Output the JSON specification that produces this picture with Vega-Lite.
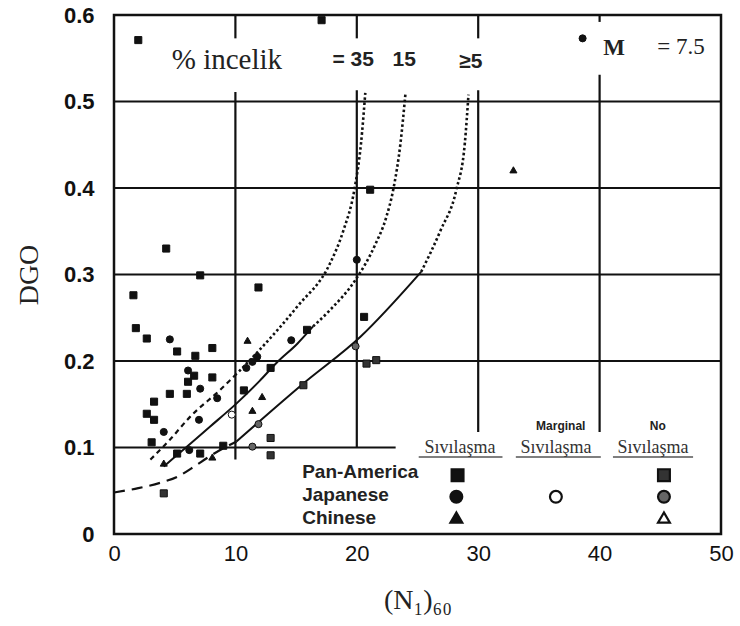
{
  "$schema": "https://vega.github.io/schema/vega-lite/v6.json",
  "width": 607,
  "height": 519,
  "autosize": {"type": "none"},
  "padding": {"left": 114, "top": 15, "right": 19, "bottom": 92},
  "background": "white",
  "config": {"view": {"stroke": "#111", "strokeWidth": 2.5}, "font": "Liberation Sans"},
  "datasets": {
    "izgara": [
      {"n": 0, "n2": 50, "dgo": 0.2, "dgo2": 0.2, "tur": "izgara"},
      {"n": 0, "n2": 50, "dgo": 0.3, "dgo2": 0.3, "tur": "izgara"},
      {"n": 0, "n2": 50, "dgo": 0.4, "dgo2": 0.4, "tur": "izgara"},
      {"n": 0, "n2": 50, "dgo": 0.5, "dgo2": 0.5, "tur": "izgara"},
      {"n": 0, "n2": 23.2, "dgo": 0.1, "dgo2": 0.1, "tur": "izgara"},
      {"n": 10, "n2": 10, "dgo": 0.573, "dgo2": 0.6, "tur": "izgara"},
      {"n": 10, "n2": 10, "dgo": 0.086, "dgo2": 0.511, "tur": "izgara"},
      {"n": 20, "n2": 20, "dgo": 0.573, "dgo2": 0.6, "tur": "izgara"},
      {"n": 20, "n2": 20, "dgo": 0.1, "dgo2": 0.513, "tur": "izgara"},
      {"n": 30, "n2": 30, "dgo": 0.573, "dgo2": 0.6, "tur": "izgara"},
      {"n": 30, "n2": 30, "dgo": 0.118, "dgo2": 0.513, "tur": "izgara"},
      {"n": 40, "n2": 40, "dgo": 0.592, "dgo2": 0.6, "tur": "izgara"},
      {"n": 40, "n2": 40, "dgo": 0.118, "dgo2": 0.531, "tur": "izgara"},
      {"n": 25.1, "n2": 32.0, "dgo": 0.089, "dgo2": 0.089, "tur": "alt"},
      {"n": 33.1, "n2": 40.1, "dgo": 0.089, "dgo2": 0.089, "tur": "alt"},
      {"n": 41.1, "n2": 47.7, "dgo": 0.089, "dgo2": 0.089, "tur": "alt"}
    ],
    "egriler": [
      {"n": 3.0, "dgo": 0.086, "kisim": "35-alt"},
      {"n": 4.6, "dgo": 0.109, "kisim": "35-alt"},
      {"n": 6.3, "dgo": 0.136, "kisim": "35-alt"},
      {"n": 8.7, "dgo": 0.166, "kisim": "35-alt"},
      {"n": 10.3, "dgo": 0.188, "kisim": "35-alt"},
      {"n": 10.3, "dgo": 0.188, "kisim": "35-ust"},
      {"n": 12.0, "dgo": 0.213, "kisim": "35-ust"},
      {"n": 15.1, "dgo": 0.263, "kisim": "35-ust"},
      {"n": 17.8, "dgo": 0.313, "kisim": "35-ust"},
      {"n": 18.9, "dgo": 0.351, "kisim": "35-ust"},
      {"n": 19.8, "dgo": 0.398, "kisim": "35-ust"},
      {"n": 20.35, "dgo": 0.452, "kisim": "35-ust"},
      {"n": 20.7, "dgo": 0.51, "kisim": "35-ust"},
      {"n": 4.1, "dgo": 0.078, "kisim": "15-alt"},
      {"n": 6.0, "dgo": 0.101, "kisim": "15-alt"},
      {"n": 7.9, "dgo": 0.124, "kisim": "15-alt"},
      {"n": 10.1, "dgo": 0.151, "kisim": "15-alt"},
      {"n": 12.0, "dgo": 0.177, "kisim": "15-alt"},
      {"n": 13.4, "dgo": 0.198, "kisim": "15-alt"},
      {"n": 15.1, "dgo": 0.22, "kisim": "15-alt"},
      {"n": 16.4, "dgo": 0.24, "kisim": "15-alt"},
      {"n": 16.4, "dgo": 0.24, "kisim": "15-ust"},
      {"n": 17.8, "dgo": 0.259, "kisim": "15-ust"},
      {"n": 19.9, "dgo": 0.294, "kisim": "15-ust"},
      {"n": 21.5, "dgo": 0.334, "kisim": "15-ust"},
      {"n": 22.4, "dgo": 0.365, "kisim": "15-ust"},
      {"n": 23.0, "dgo": 0.398, "kisim": "15-ust"},
      {"n": 23.6, "dgo": 0.452, "kisim": "15-ust"},
      {"n": 24.0, "dgo": 0.508, "kisim": "15-ust"},
      {"n": 0, "dgo": 0.048, "kisim": "5-alt"},
      {"n": 2, "dgo": 0.053, "kisim": "5-alt"},
      {"n": 4, "dgo": 0.06, "kisim": "5-alt"},
      {"n": 5.2, "dgo": 0.066, "kisim": "5-alt"},
      {"n": 6.5, "dgo": 0.077, "kisim": "5-alt"},
      {"n": 7.9, "dgo": 0.09, "kisim": "5-alt"},
      {"n": 9.0, "dgo": 0.099, "kisim": "5-alt"},
      {"n": 10.1, "dgo": 0.107, "kisim": "5-alt"},
      {"n": 10.1, "dgo": 0.107, "kisim": "5-orta"},
      {"n": 11.8, "dgo": 0.128, "kisim": "5-orta"},
      {"n": 15.6, "dgo": 0.174, "kisim": "5-orta"},
      {"n": 20.3, "dgo": 0.228, "kisim": "5-orta"},
      {"n": 25.3, "dgo": 0.303, "kisim": "5-orta"},
      {"n": 25.3, "dgo": 0.303, "kisim": "5-ust"},
      {"n": 26.9, "dgo": 0.351, "kisim": "5-ust"},
      {"n": 28.2, "dgo": 0.398, "kisim": "5-ust"},
      {"n": 28.9, "dgo": 0.452, "kisim": "5-ust"},
      {"n": 29.2, "dgo": 0.508, "kisim": "5-ust"}
    ],
    "noktalar": [
      {"n": 2.0, "dgo": 0.571, "grup": "Pan-America Sıvılaşma"},
      {"n": 17.1, "dgo": 0.594, "grup": "Pan-America Sıvılaşma"},
      {"n": 38.6, "dgo": 0.573, "grup": "Japanese Sıvılaşma"},
      {"n": 32.9, "dgo": 0.421, "grup": "Chinese Sıvılaşma"},
      {"n": 4.3, "dgo": 0.33, "grup": "Pan-America Sıvılaşma"},
      {"n": 7.1, "dgo": 0.299, "grup": "Pan-America Sıvılaşma"},
      {"n": 1.6, "dgo": 0.276, "grup": "Pan-America Sıvılaşma"},
      {"n": 11.9, "dgo": 0.285, "grup": "Pan-America Sıvılaşma"},
      {"n": 1.8, "dgo": 0.238, "grup": "Pan-America Sıvılaşma"},
      {"n": 2.7, "dgo": 0.226, "grup": "Pan-America Sıvılaşma"},
      {"n": 4.6, "dgo": 0.225, "grup": "Japanese Sıvılaşma"},
      {"n": 5.2, "dgo": 0.211, "grup": "Pan-America Sıvılaşma"},
      {"n": 6.7, "dgo": 0.206, "grup": "Pan-America Sıvılaşma"},
      {"n": 8.1, "dgo": 0.215, "grup": "Pan-America Sıvılaşma"},
      {"n": 11.0, "dgo": 0.224, "grup": "Chinese Sıvılaşma"},
      {"n": 6.1, "dgo": 0.189, "grup": "Japanese Sıvılaşma"},
      {"n": 6.6, "dgo": 0.183, "grup": "Pan-America Sıvılaşma"},
      {"n": 6.1, "dgo": 0.176, "grup": "Pan-America Sıvılaşma"},
      {"n": 8.1, "dgo": 0.181, "grup": "Pan-America Sıvılaşma"},
      {"n": 7.1, "dgo": 0.168, "grup": "Japanese Sıvılaşma"},
      {"n": 4.6, "dgo": 0.162, "grup": "Pan-America Sıvılaşma"},
      {"n": 6.0, "dgo": 0.162, "grup": "Pan-America Sıvılaşma"},
      {"n": 8.5, "dgo": 0.157, "grup": "Japanese Sıvılaşma"},
      {"n": 3.3, "dgo": 0.153, "grup": "Pan-America Sıvılaşma"},
      {"n": 2.7, "dgo": 0.139, "grup": "Pan-America Sıvılaşma"},
      {"n": 3.3, "dgo": 0.132, "grup": "Pan-America Sıvılaşma"},
      {"n": 7.0, "dgo": 0.132, "grup": "Japanese Sıvılaşma"},
      {"n": 9.7, "dgo": 0.138, "grup": "Japanese Marginal"},
      {"n": 4.1, "dgo": 0.118, "grup": "Japanese Sıvılaşma"},
      {"n": 3.1, "dgo": 0.106, "grup": "Pan-America Sıvılaşma"},
      {"n": 5.2, "dgo": 0.093, "grup": "Pan-America Sıvılaşma"},
      {"n": 6.2, "dgo": 0.097, "grup": "Japanese Sıvılaşma"},
      {"n": 7.1, "dgo": 0.093, "grup": "Pan-America Sıvılaşma"},
      {"n": 8.1, "dgo": 0.089, "grup": "Chinese Sıvılaşma"},
      {"n": 9.0, "dgo": 0.102, "grup": "Pan-America Sıvılaşma"},
      {"n": 4.1, "dgo": 0.082, "grup": "Chinese Sıvılaşma"},
      {"n": 4.1, "dgo": 0.047, "grup": "Pan-America No"},
      {"n": 11.4, "dgo": 0.101, "grup": "Japanese No"},
      {"n": 10.9, "dgo": 0.192, "grup": "Japanese Sıvılaşma"},
      {"n": 11.4, "dgo": 0.199, "grup": "Japanese Sıvılaşma"},
      {"n": 11.8, "dgo": 0.205, "grup": "Japanese Sıvılaşma"},
      {"n": 12.9, "dgo": 0.192, "grup": "Pan-America Sıvılaşma"},
      {"n": 14.6, "dgo": 0.224, "grup": "Japanese Sıvılaşma"},
      {"n": 15.9, "dgo": 0.236, "grup": "Pan-America Sıvılaşma"},
      {"n": 10.7, "dgo": 0.166, "grup": "Pan-America Sıvılaşma"},
      {"n": 12.2, "dgo": 0.159, "grup": "Chinese Sıvılaşma"},
      {"n": 11.4, "dgo": 0.143, "grup": "Chinese Sıvılaşma"},
      {"n": 11.9, "dgo": 0.127, "grup": "Japanese No"},
      {"n": 15.6, "dgo": 0.172, "grup": "Pan-America No"},
      {"n": 19.9, "dgo": 0.217, "grup": "Japanese No"},
      {"n": 20.6, "dgo": 0.251, "grup": "Pan-America Sıvılaşma"},
      {"n": 20.8, "dgo": 0.197, "grup": "Pan-America No"},
      {"n": 21.6, "dgo": 0.201, "grup": "Pan-America No"},
      {"n": 12.9, "dgo": 0.111, "grup": "Pan-America No"},
      {"n": 12.9, "dgo": 0.091, "grup": "Pan-America No"},
      {"n": 20.0, "dgo": 0.317, "grup": "Japanese Sıvılaşma"},
      {"n": 21.1, "dgo": 0.398, "grup": "Pan-America Sıvılaşma"}
    ],
    "lejant": [
      {"n": 28.3, "dgo": 0.068, "grup": "Pan-America Sıvılaşma"},
      {"n": 28.2, "dgo": 0.043, "grup": "Japanese Sıvılaşma"},
      {"n": 28.2, "dgo": 0.019, "grup": "Chinese Sıvılaşma"},
      {"n": 36.4, "dgo": 0.043, "grup": "Japanese Marginal"},
      {"n": 45.3, "dgo": 0.068, "grup": "Pan-America No"},
      {"n": 45.3, "dgo": 0.043, "grup": "Japanese No"},
      {"n": 45.3, "dgo": 0.019, "grup": "Chinese No"}
    ],
    "yazilar": [
      {"n": 9.3, "dgo": 0.548, "metin": "% incelik", "tur": "baslik"},
      {"n": 19.7, "dgo": 0.548, "metin": "= 35", "tur": "egri"},
      {"n": 23.9, "dgo": 0.548, "metin": "15", "tur": "egri"},
      {"n": 29.4, "dgo": 0.546, "metin": "≥5", "tur": "egri"},
      {"n": 41.2, "dgo": 0.562, "metin": "M", "tur": "M"},
      {"n": 46.7, "dgo": 0.563, "metin": "= 7.5", "tur": "M2"},
      {"n": 28.5, "dgo": 0.099, "metin": "Sıvılaşma", "tur": "sutun"},
      {"n": 36.4, "dgo": 0.099, "metin": "Sıvılaşma", "tur": "sutun"},
      {"n": 44.4, "dgo": 0.099, "metin": "Sıvılaşma", "tur": "sutun"},
      {"n": 36.8, "dgo": 0.125, "metin": "Marginal", "tur": "ust"},
      {"n": 44.8, "dgo": 0.125, "metin": "No", "tur": "ust"},
      {"n": 15.5, "dgo": 0.072, "metin": "Pan-America", "tur": "satir"},
      {"n": 15.5, "dgo": 0.045, "metin": "Japanese", "tur": "satir"},
      {"n": 15.5, "dgo": 0.019, "metin": "Chinese", "tur": "satir"}
    ]
  },
  "encoding": {
    "x": {
      "field": "n", "type": "quantitative",
      "scale": {"domain": [0, 50], "nice": false, "zero": false},
      "axis": {"values": [0, 10, 20, 30, 40, 50], "title": "(N₁)₆₀", "grid": false, "domain": false, "ticks": false,
        "labelFontSize": 22, "labelFont": "Liberation Sans", "labelColor": "#111", "labelPadding": 9, "labelFlush": false,
        "titleFont": "Liberation Serif", "titleFontSize": 28, "titleFontWeight": "normal", "titleColor": "#222", "titlePadding": 22}
    },
    "y": {
      "field": "dgo", "type": "quantitative",
      "scale": {"domain": [0, 0.6], "nice": false, "zero": false},
      "axis": {"values": [0, 0.1, 0.2, 0.3, 0.4, 0.5, 0.6], "labelExpr": "datum.value == 0 ? '0' : format(datum.value, '.1f')",
        "title": "DGO", "grid": false, "domain": false, "ticks": false,
        "labelFontSize": 22, "labelFontWeight": "bold", "labelFont": "Liberation Sans", "labelColor": "#111", "labelPadding": 20, "labelFlush": false,
        "titleFont": "Liberation Serif", "titleFontSize": 28, "titleFontWeight": "normal", "titleColor": "#222", "titlePadding": 20}
    }
  },
  "layer": [
    {
      "data": {"name": "izgara"},
      "transform": [{"filter": "datum.tur == 'izgara'"}],
      "mark": {"type": "rule", "color": "#111", "strokeWidth": 2.2},
      "encoding": {"x2": {"field": "n2"}, "y2": {"field": "dgo2"}}
    },
    {
      "data": {"name": "izgara"},
      "transform": [{"filter": "datum.tur == 'alt'"}],
      "mark": {"type": "rule", "color": "#555", "strokeWidth": 1.3},
      "encoding": {"x2": {"field": "n2"}, "y2": {"field": "dgo2"}}
    },
    {
      "data": {"name": "egriler"},
      "transform": [{"filter": "datum.kisim == '15-alt' || datum.kisim == '5-orta'"}],
      "mark": {"type": "line", "color": "#111", "strokeWidth": 2, "interpolate": "monotone"},
      "encoding": {"detail": {"field": "kisim"}, "order": {"field": "n"}}
    },
    {
      "data": {"name": "egriler"},
      "transform": [{"filter": "datum.kisim == '35-ust' || datum.kisim == '15-ust' || datum.kisim == '5-ust'"}],
      "mark": {"type": "line", "color": "#111", "strokeWidth": 2.6, "strokeDash": [2.5, 2.5], "interpolate": "monotone"},
      "encoding": {"detail": {"field": "kisim"}, "order": {"field": "n"}}
    },
    {
      "data": {"name": "egriler"},
      "transform": [{"filter": "datum.kisim == '35-alt'"}],
      "mark": {"type": "line", "color": "#111", "strokeWidth": 2.2, "strokeDash": [5, 4], "interpolate": "monotone"},
      "encoding": {"detail": {"field": "kisim"}, "order": {"field": "n"}}
    },
    {
      "data": {"name": "egriler"},
      "transform": [{"filter": "datum.kisim == '5-alt'"}],
      "mark": {"type": "line", "color": "#111", "strokeWidth": 2.2, "strokeDash": [11, 7], "interpolate": "monotone"},
      "encoding": {"detail": {"field": "kisim"}, "order": {"field": "n"}}
    },
    {
      "data": {"name": "noktalar"},
      "mark": {"type": "point", "filled": true, "stroke": "#111", "strokeWidth": 1, "size": 50, "opacity": 1},
      "encoding": {
        "shape": {"field": "grup", "type": "nominal", "legend": null,
          "scale": {"domain": ["Pan-America Sıvılaşma", "Japanese Sıvılaşma", "Chinese Sıvılaşma", "Japanese Marginal", "Pan-America No", "Japanese No", "Chinese No"],
            "range": ["square", "circle", "triangle-up", "circle", "square", "circle", "triangle-up"]}},
        "fill": {"field": "grup", "type": "nominal", "legend": null,
          "scale": {"domain": ["Pan-America Sıvılaşma", "Japanese Sıvılaşma", "Chinese Sıvılaşma", "Japanese Marginal", "Pan-America No", "Japanese No", "Chinese No"],
            "range": ["#111", "#111", "#111", "white", "#333", "#666", "white"]}}
      }
    },
    {
      "data": {"name": "lejant"},
      "mark": {"type": "point", "filled": true, "stroke": "#111", "strokeWidth": 2.2, "size": 140, "opacity": 1},
      "encoding": {
        "shape": {"field": "grup", "type": "nominal", "legend": null},
        "fill": {"field": "grup", "type": "nominal", "legend": null}
      }
    },
    {
      "data": {"name": "yazilar"},
      "transform": [{"filter": "datum.tur == 'baslik'"}],
      "mark": {"type": "text", "font": "Liberation Serif", "fontSize": 29, "color": "#222", "align": "center", "baseline": "middle"},
      "encoding": {"text": {"field": "metin"}}
    },
    {
      "data": {"name": "yazilar"},
      "transform": [{"filter": "datum.tur == 'egri'"}],
      "mark": {"type": "text", "font": "Liberation Sans", "fontSize": 21, "fontWeight": "bold", "color": "#222", "align": "center", "baseline": "middle"},
      "encoding": {"text": {"field": "metin"}}
    },
    {
      "data": {"name": "yazilar"},
      "transform": [{"filter": "datum.tur == 'M'"}],
      "mark": {"type": "text", "font": "Liberation Serif", "fontSize": 23, "fontWeight": "bold", "color": "#222", "align": "center", "baseline": "middle"},
      "encoding": {"text": {"field": "metin"}}
    },
    {
      "data": {"name": "yazilar"},
      "transform": [{"filter": "datum.tur == 'M2'"}],
      "mark": {"type": "text", "font": "Liberation Serif", "fontSize": 23, "color": "#222", "align": "center", "baseline": "middle"},
      "encoding": {"text": {"field": "metin"}}
    },
    {
      "data": {"name": "yazilar"},
      "transform": [{"filter": "datum.tur == 'sutun'"}],
      "mark": {"type": "text", "font": "Liberation Serif", "fontSize": 18, "color": "#333", "align": "center", "baseline": "middle"},
      "encoding": {"text": {"field": "metin"}}
    },
    {
      "data": {"name": "yazilar"},
      "transform": [{"filter": "datum.tur == 'ust'"}],
      "mark": {"type": "text", "font": "Liberation Sans", "fontSize": 12, "fontWeight": "bold", "color": "#222", "align": "center", "baseline": "middle"},
      "encoding": {"text": {"field": "metin"}}
    },
    {
      "data": {"name": "yazilar"},
      "transform": [{"filter": "datum.tur == 'satir'"}],
      "mark": {"type": "text", "font": "Liberation Sans", "fontSize": 19, "fontWeight": "bold", "color": "#222", "align": "left", "baseline": "middle"},
      "encoding": {"text": {"field": "metin"}}
    }
  ]
}
